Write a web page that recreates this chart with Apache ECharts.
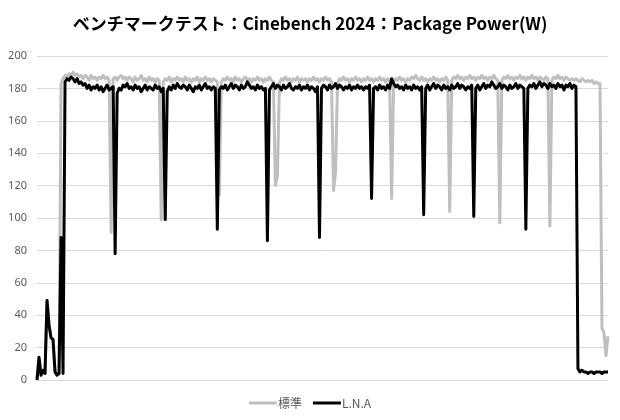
<!DOCTYPE html>
<html>
<head>
<meta charset="utf-8">
<script src="https://cdn.jsdelivr.net/npm/echarts@6/dist/echarts.min.js"></script>
<style>
html,body{margin:0;padding:0;background:#fff;}
#c{width:620px;height:420px;}
</style>
</head>
<body>
<div id="c"></div>
<script>
var titleText = 'ベンチマークテスト：Cinebench 2024：Package Power(W)';
var seriesNames = ['標準', 'L.N.A'];
var yTicks = [0, 20, 40, 60, 80, 100, 120, 140, 160, 180, 200];

var standard = [
0,14,3,6,4,49,34,26,25,5,
3,4,183,186,188,187,189,188,190,188,
189,187,188,186,188,187,185,188,186,187,
185,187,186,188,186,187,185,91,186,187,
185,187,188,186,187,185,187,186,184,187,
185,186,188,185,186,184,187,185,186,184,
186,185,99,184,186,185,187,184,186,185,
187,185,186,184,187,185,186,184,186,185,
187,184,186,185,187,185,186,184,186,185,
184,114,184,186,185,187,185,186,184,187,
185,186,184,186,187,185,186,184,186,185,
187,185,186,184,186,185,187,185,184,120,
126,183,186,185,187,185,186,184,186,185,
187,184,186,185,186,184,186,185,187,185,
186,184,186,185,187,185,186,184,117,128,
183,186,185,187,185,186,184,186,185,187,
185,186,184,186,185,187,185,186,184,186,
185,187,185,186,184,186,185,112,184,186,
185,187,185,186,184,186,185,187,186,188,
186,185,187,185,186,184,186,185,187,185,
186,184,186,185,187,185,104,185,187,186,
188,186,187,185,187,186,188,186,187,185,
187,186,188,186,187,185,187,186,188,186,
185,97,185,187,186,188,186,187,185,187,
186,188,186,187,185,187,186,188,186,187,
185,187,186,185,187,186,95,185,187,186,
188,186,187,185,187,186,185,186,185,186,
185,184,186,185,184,185,184,185,183,184,
183,183,32,29,15,27
];

var lna = [
0,14,3,6,4,49,34,26,25,5,
3,4,88,4,184,186,185,187,186,184,
186,183,184,182,183,180,182,179,181,180,
182,179,181,178,180,182,179,180,181,78,
177,180,179,182,181,183,180,181,179,182,
180,181,178,180,182,179,181,180,179,182,
180,181,178,180,99,178,181,179,182,180,
183,181,180,182,181,179,182,180,178,181,
180,182,179,181,183,180,181,179,181,180,
93,179,181,180,182,179,181,183,180,182,
181,179,182,180,181,184,182,180,181,179,
182,180,181,179,180,86,179,181,183,180,
182,181,179,182,180,181,183,180,179,181,
180,182,179,181,180,182,179,181,180,178,
181,88,180,182,181,179,182,180,181,183,
180,182,181,179,181,180,182,179,181,180,
182,180,181,179,181,180,182,112,180,181,
179,182,180,181,179,182,180,186,183,181,
182,180,181,179,182,180,181,179,182,180,
181,179,181,102,180,182,179,181,183,180,
182,181,179,182,180,181,179,182,180,181,
183,180,182,181,179,181,180,182,101,180,
182,179,181,183,180,182,181,184,182,180,
181,183,180,182,181,179,182,180,181,183,
180,182,181,180,93,180,182,181,183,180,
182,184,181,183,182,180,183,181,182,180,
183,181,182,179,182,181,183,180,182,181,
7,5,6,5,5,4,5,5,4,5,
5,5,4,5,5,5
];

var categories = standard.map(function (_, i) { return i + 1; });

var chart = echarts.init(document.getElementById('c'), null, {renderer: 'canvas'});
chart.setOption({
  animation: false,
  backgroundColor: '#ffffff',
  title: {
    text: titleText,
    left: 'center',
    top: 10,
    textStyle: {
      fontFamily: '"Noto Sans CJK JP", sans-serif',
      fontSize: 17,
      fontWeight: 'bold',
      color: '#000000'
    }
  },
  grid: {left: 37, right: 12, top: 56, bottom: 40},
  legend: {
    bottom: 6,
    left: 'center',
    itemWidth: 28,
    itemHeight: 3,
    itemGap: 11,
    icon: 'rect',
    textStyle: {
      fontFamily: '"Noto Sans CJK JP", sans-serif',
      fontSize: 12,
      color: '#595959',
      padding: [0, 0, 0, -4]
    },
    data: seriesNames
  },
  xAxis: {
    type: 'category',
    data: categories,
    boundaryGap: false,
    axisLine: {show: false},
    axisTick: {show: false},
    axisLabel: {show: false},
    splitLine: {show: false}
  },
  yAxis: {
    type: 'value',
    min: yTicks[0],
    max: yTicks[yTicks.length - 1],
    interval: yTicks[1] - yTicks[0],
    axisLine: {show: false},
    axisTick: {show: false},
    axisLabel: {
      margin: 10,
      fontSize: 11,
      color: '#595959',
      fontFamily: '"Noto Sans", sans-serif'
    },
    splitLine: {lineStyle: {color: '#d9d9d9', width: 1}}
  },
  series: [
    {
      name: seriesNames[0],
      type: 'line',
      data: standard,
      symbol: 'none',
      color: '#bfbfbf',
      lineStyle: {color: '#bfbfbf', width: 3, join: 'round'},
      z: 2
    },
    {
      name: seriesNames[1],
      type: 'line',
      data: lna,
      symbol: 'none',
      color: '#000000',
      lineStyle: {color: '#000000', width: 3, join: 'round'},
      z: 3
    }
  ]
});
</script>
</body>
</html>
